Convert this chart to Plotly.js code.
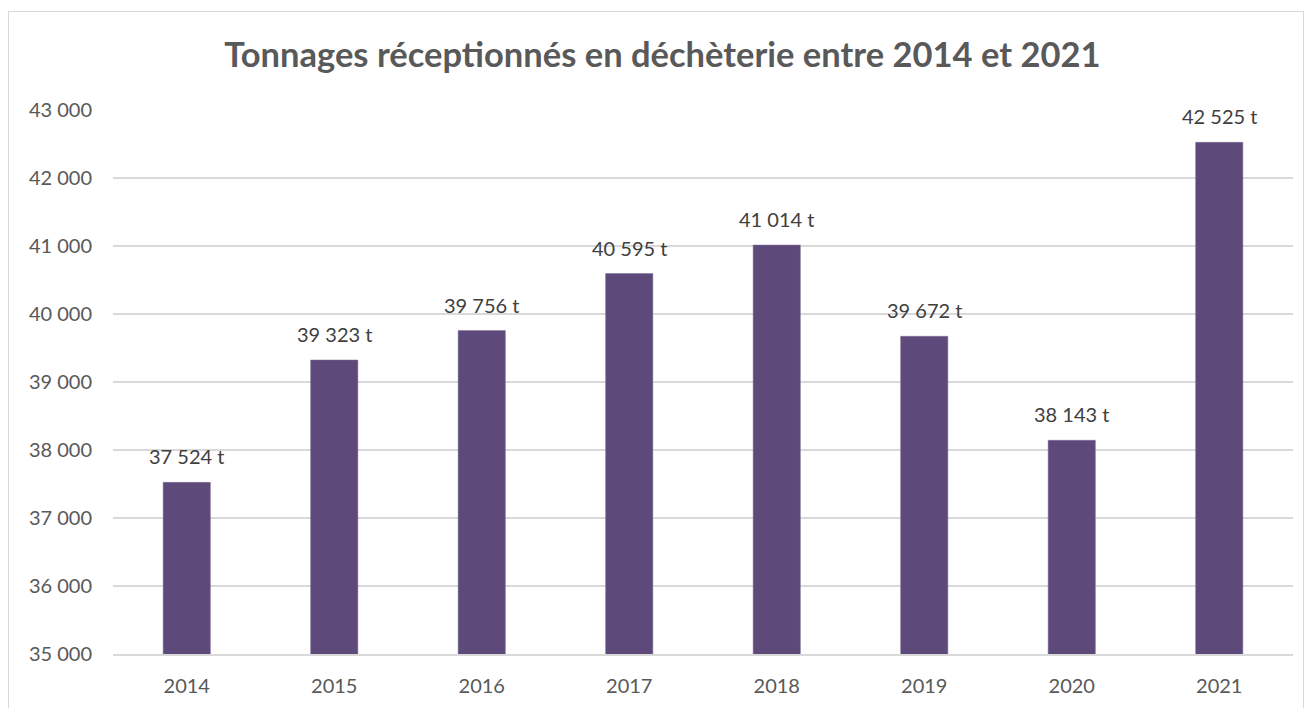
<!DOCTYPE html>
<html>
<head>
<meta charset="utf-8">
<script src="https://cdn.plot.ly/plotly-3.0.1.min.js"></script>
<style>
  html, body { margin: 0; padding: 0; background: #fff; }
  #wrap { position: relative; width: 1309px; height: 708px; overflow: hidden; }
  #chart { width: 1309px; height: 708px; }
  #frame { position: absolute; left: 8px; top: 11px; width: 1296px; height: 720px;
           border: 1.5px solid #d9d9d9; pointer-events: none; box-sizing: border-box; }
</style>
</head>
<body>
<div id="wrap">
  <div id="chart"></div>
  <div id="frame"></div>
</div>
<script>
const years = ['2014', '2015', '2016', '2017', '2018', '2019', '2020', '2021'];
const tonnages = [37524, 39323, 39756, 40595, 41014, 39672, 38143, 42525];
const titleText = 'Tonnages réceptionnés en déchèterie entre 2014 et 2021';
const unit = ' t';

const textColor = '#595959';
const font = 'Lato, "Open Sans", sans-serif';

const trace = {
  type: 'bar',
  x: years,
  y: tonnages,
  marker: { color: '#5e4a7a', line: { color: '#7a6a94', width: 0.5 } },
  hoverinfo: 'x+y'
};

const annotations = years.map((yr, i) => ({
  x: i,
  y: tonnages[i],
  xref: 'x',
  yref: 'y',
  text: tonnages[i].toString().replace(/\B(?=(\d{3})+(?!\d))/g, ' ') + unit,
  showarrow: false,
  yanchor: 'bottom',
  yshift: 12,
  font: { family: font, size: 20, color: '#404040' }
}));

const layout = {
  width: 1309,
  height: 708,
  margin: { l: 113, r: 16, t: 110, b: 54 },
  paper_bgcolor: '#ffffff',
  plot_bgcolor: '#ffffff',
  separators: ', ',
  title: {
    text: '<b>' + titleText + '</b>',
    x: 0.506,
    xanchor: 'center',
    y: 0.922,
    yanchor: 'middle',
    font: { family: font, size: 34.5, color: textColor }
  },
  bargap: 0.68,
  showlegend: false,
  xaxis: {
    type: 'category',
    categoryorder: 'array',
    categoryarray: years,
    range: [-0.5, years.length - 0.5],
    autorange: false,
    showgrid: false,
    showline: true,
    linecolor: '#d9d9d9',
    linewidth: 1.5,
    ticks: '',
    ticklabelstandoff: 13,
    tickfont: { family: font, size: 20, color: textColor },
    zeroline: false
  },
  yaxis: {
    range: [35000, 43000],
    autorange: false,
    dtick: 1000,
    tick0: 35000,
    tickformat: ',',
    showgrid: true,
    gridcolor: '#d9d9d9',
    gridwidth: 1.2,
    zeroline: false,
    showline: false,
    ticks: '',
    ticklabelstandoff: 20,
    tickfont: { family: font, size: 20, color: textColor }
  },
  annotations: annotations
};

Plotly.newPlot('chart', [trace], layout, { displayModeBar: false, staticPlot: true });
</script>
</body>
</html>
